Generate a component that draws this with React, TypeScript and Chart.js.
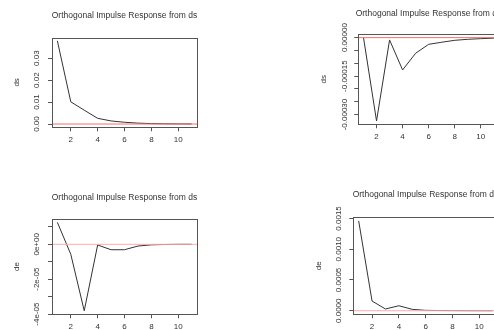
import React, { useEffect, useRef } from 'react';
import { Chart, registerables } from 'chart.js';

Chart.register(...registerables);

// ---------- data ----------
const horizons = [1, 2, 3, 4, 5, 6, 7, 8, 9, 10, 11];
const xTicks = [2, 4, 6, 8, 10];

const dsFromDs = [0.0379, 0.0101, 0.0063, 0.0026, 0.0014, 0.0008, 0.0004, 0.0002, 0.0001, 0.00005, 0.00002];
const dsFromDe = [0, -0.000325, -0.000009, -0.000126, -0.000061, -0.000026, -0.000018, -0.0000105, -0.0000065, -0.000004, -0.000002];
const deFromDs = [0.0000126, -0.0000057, -0.0000381, -0.0000004, -0.0000031, -0.0000031, -0.000001, -0.0000003, -0.0000001, 0, 0];
const deFromDe = [0.00146, 0.000157, 0.000028, 0.000081, 0.000022, 0.000006, 0.000003, 0.000002, 0.000001, 0.0000005, 0.0000002];

const titleFromDs = 'Orthogonal Impulse Response from ds';
const titleFromDe = 'Orthogonal Impulse Response from de';

const yTicksP1 = [0, 0.01, 0.02, 0.03];
const yLabelsP1 = ['0.00', '0.01', '0.02', '0.03'];
const yTicksP2 = [0, -0.00005, -0.0001, -0.00015, -0.0002, -0.00025, -0.0003];
const yLabelsP2 = ['0.00000', '', '', '-0.00015', '', '', '-0.00030'];
const yTicksP3 = [0.00001, 0, -0.00001, -0.00002, -0.00003, -0.00004];
const yLabelsP3 = ['', '0e+00', '', '-2e-05', '', '-4e-05'];
const yTicksP4 = [0, 0.0005, 0.001, 0.0015];
const yLabelsP4 = ['0.0000', '0.0005', '0.0010', '0.0015'];

// ---------- layout ----------
const FONT_FAMILY = '"Liberation Sans", Arial, Helvetica, sans-serif';
const TEXT_COLOR = '#333';

type Panel = {
  values: number[];
  title: string;
  yName: string;
  yTicks: number[];
  yLabels: string[];
  left: number; top: number; width: number; height: number;
  box: { l: number; r: number; t: number; b: number };
  titleY: number;
  yNameX: number;
  tickLabelOffset: number;
  zeroColor: string;
};

const panels: Panel[] = [
  {
    values: dsFromDs, title: titleFromDs, yName: 'ds', yTicks: yTicksP1, yLabels: yLabelsP1,
    left: 0, top: 0, width: 249, height: 165,
    box: { l: 52, r: 197, t: 37.5, b: 127.3 }, titleY: 16, yNameX: 17, tickLabelOffset: 15,
    zeroColor: '#ff6a6a',
  },
  {
    values: dsFromDe, title: titleFromDe, yName: 'ds', yTicks: yTicksP2, yLabels: yLabelsP2,
    left: 250, top: 0, width: 260, height: 165,
    box: { l: 358.3, r: 499, t: 34.3, b: 124.3 }, titleY: 14, yNameX: 324, tickLabelOffset: 13.3,
    zeroColor: '#ff6a6a',
  },
  {
    values: deFromDs, title: titleFromDs, yName: 'de', yTicks: yTicksP3, yLabels: yLabelsP3,
    left: 0, top: 165, width: 249, height: 180,
    box: { l: 52, r: 197, t: 218.8, b: 314.3 }, titleY: 197.7, yNameX: 17, tickLabelOffset: 15,
    zeroColor: '#ffaaaa',
  },
  {
    values: deFromDe, title: titleFromDe, yName: 'de', yTicks: yTicksP4, yLabels: yLabelsP4,
    left: 250, top: 165, width: 260, height: 180,
    box: { l: 353.3, r: 498, t: 217.3, b: 314.3 }, titleY: 194.3, yNameX: 318.3, tickLabelOffset: 15,
    zeroColor: '#ffaaaa',
  },
];

const TICK_FONT_SIZE = 8;
const TITLE_FONT_SIZE = 8.5;
const TICK_LEN = 4;

function measureWidest(labels: string[]): number {
  const c = document.createElement('canvas');
  const ctx = c.getContext('2d')!;
  ctx.font = `${TICK_FONT_SIZE}px ${FONT_FAMILY}`;
  let w = 0;
  labels.forEach((l) => { if (l) w = Math.max(w, ctx.measureText(l).width); });
  return w;
}

const boxPlugin = {
  id: 'rBox',
  afterDraw(chart: any) {
    const { ctx, chartArea } = chart;
    ctx.save();
    ctx.strokeStyle = '#555';
    ctx.lineWidth = 1;
    const l = Math.round(chartArea.left) + 0.5;
    const t = Math.round(chartArea.top) + 0.5;
    const r = Math.round(chartArea.right) + 0.5;
    const b = Math.round(chartArea.bottom) + 0.5;
    ctx.strokeRect(l, t, r - l, b - t);
    ctx.restore();
  },
};

const zeroPlugin = {
  id: 'rZero',
  afterDatasetsDraw(chart: any, _args: any, opts: any) {
    const { ctx, chartArea } = chart;
    const y = chart.scales.y.getPixelForValue(0);
    ctx.save();
    ctx.strokeStyle = opts.color;
    ctx.lineWidth = 1;
    ctx.beginPath();
    ctx.moveTo(chartArea.left, y);
    ctx.lineTo(chartArea.right, y);
    ctx.stroke();
    ctx.restore();
  },
};

const titlePlugin = {
  id: 'rTitle',
  afterDraw(chart: any, _args: any, opts: any) {
    const { ctx, chartArea } = chart;
    ctx.save();
    ctx.font = `${TITLE_FONT_SIZE}px ${FONT_FAMILY}`;
    ctx.fillStyle = TEXT_COLOR;
    ctx.textAlign = 'center';
    ctx.textBaseline = 'middle';
    ctx.fillText(opts.text, (chartArea.left + chartArea.right) / 2, opts.y);
    ctx.restore();
  },
};

function PanelChart({ p }: { p: Panel }) {
  const ref = useRef<HTMLCanvasElement | null>(null);
  useEffect(() => {
    if (!ref.current) return;
    const minV = Math.min(...p.values);
    const maxV = Math.max(...p.values);
    const ext = (maxV - minV) * 0.04;
    const widest = measureWidest(p.yLabels);
    const yAxisW = p.box.l - p.left;
    const xAxisH = p.top + p.height - p.box.b;
    const font = { family: FONT_FAMILY, size: TICK_FONT_SIZE };
    const chart = new Chart(ref.current, {
      type: 'line',
      data: {
        datasets: [
          {
            data: p.values.map((v, i) => ({ x: horizons[i], y: v })),
            borderColor: '#333',
            borderWidth: 1,
            pointRadius: 0,
            tension: 0,
            fill: false,
          },
        ],
      },
      options: {
        animation: false,
        responsive: false,
        maintainAspectRatio: false,
        devicePixelRatio: 1,
        layout: {
          padding: {
            left: 0,
            top: p.box.t - p.top,
            right: p.left + p.width - p.box.r,
            bottom: 0,
          },
        },
        plugins: {
          legend: { display: false },
          tooltip: { enabled: false },
          title: { display: false },
          rTitle: { text: p.title, y: p.titleY - p.top },
          rZero: { color: p.zeroColor },
        } as any,
        scales: {
          x: {
            type: 'linear',
            min: 0.6,
            max: 11.4,
            afterBuildTicks: (s: any) => { s.ticks = xTicks.map((v) => ({ value: v })); },
            afterFit: (s: any) => { s.height = xAxisH; },
            grid: { display: true, drawOnChartArea: false, drawTicks: true, tickLength: TICK_LEN, color: '#555', lineWidth: 1 },
            border: { display: false },
            ticks: {
              font, color: TEXT_COLOR, padding: 4, maxRotation: 0, minRotation: 0, autoSkip: false,
              callback: (v: any) => String(v),
            },
          },
          y: {
            type: 'linear',
            min: minV - ext,
            max: maxV + ext,
            afterBuildTicks: (s: any) => { s.ticks = p.yTicks.map((v) => ({ value: v })); },
            afterFit: (s: any) => { s.width = yAxisW; },
            grid: { display: true, drawOnChartArea: false, drawTicks: true, tickLength: TICK_LEN, color: '#555', lineWidth: 1 },
            border: { display: false },
            ticks: {
              font, color: TEXT_COLOR, autoSkip: false,
              minRotation: 90, maxRotation: 90,
              crossAlign: 'center',
              padding: p.tickLabelOffset - TICK_LEN - widest / 2,
              callback: (_v: any, i: number) => p.yLabels[i],
            },
            title: {
              display: true,
              text: p.yName,
              font,
              color: TEXT_COLOR,
              padding: { top: p.yNameX - p.left - (TICK_FONT_SIZE * 1.2) / 2, bottom: 0 },
            },
          },
        },
      },
      plugins: [zeroPlugin, boxPlugin, titlePlugin],
    } as any);
    return () => chart.destroy();
  }, [p]);
  return (
    <canvas
      ref={ref}
      width={p.width}
      height={p.height}
      style={{ position: 'absolute', left: p.left, top: p.top, width: p.width, height: p.height }}
    />
  );
}

export default function App() {
  return (
    <div
      style={{
        position: 'fixed', left: 0, top: 0, width: 494, height: 330,
        overflow: 'hidden', background: '#fff',
      }}
    >
      {panels.map((p, i) => (
        <PanelChart key={i} p={p} />
      ))}
    </div>
  );
}
